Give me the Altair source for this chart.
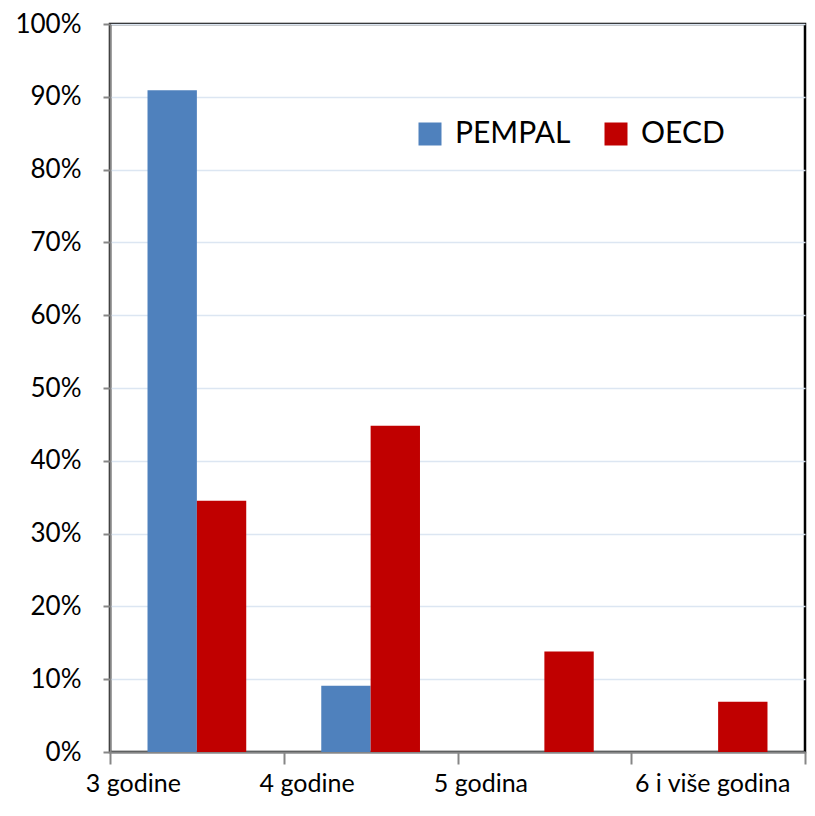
import altair as alt
import pandas as pd

categories = ["3 godine", "4 godine", "5 godina", "6 i više godina"]
series = ["PEMPAL", "OECD"]
pempal = [0.909, 0.091, 0.0, 0.0]
oecd = [0.345, 0.448, 0.138, 0.069]

rows = []
for c, p, o in zip(categories, pempal, oecd):
    rows.append({"cat": c, "series": "PEMPAL", "value": p})
    rows.append({"cat": c, "series": "OECD", "value": o})
df = pd.DataFrame(rows)

FONT = "Lato"

chart = alt.Chart(df).mark_bar(strokeWidth=0).encode(
    x=alt.X("cat:N", sort=categories, title=None,
            scale=alt.Scale(paddingInner=0, paddingOuter=0),
            axis=alt.Axis(labelAngle=0, tickBand="extent", domainColor="#868686",
                          domainWidth=2, tickColor="#868686", tickWidth=2, tickSize=12,
                          labelPadding=7, labelFontSize=25, labelFont=FONT,
                          labelColor="black", labelBound=False, labelOverlap=False,
                          labelOffset={"condition": {"test": "datum.value == '6 i više godina'", "value": -6},
                                       "value": -64},
                          grid=False)),
    xOffset=alt.XOffset("series:N", sort=series,
                        scale=alt.Scale(paddingOuter=0.76, paddingInner=0)),
    y=alt.Y("value:Q", title=None,
            scale=alt.Scale(domain=[0, 1], nice=False),
            axis=alt.Axis(format=".0%", values=[i / 10 for i in range(11)],
                          domainColor="#868686", domainWidth=2, tickColor="#868686",
                          tickWidth=2, tickSize=7, labelPadding=22, labelFontSize=26,
                          labelFont=FONT, labelColor="black",
                          gridColor="#dce6f2", gridWidth=1.5)),
    color=alt.Color("series:N", sort=series,
                    scale=alt.Scale(domain=series, range=["#4F81BD", "#C00000"]),
                    legend=alt.Legend(title=None, orient="none", legendX=305, legendY=95,
                                      direction="horizontal", symbolType="square",
                                      symbolSize=529, symbolStrokeWidth=0,
                                      labelFontSize=30, labelFont=FONT, labelColor="black",
                                      columnPadding=30, labelOffset=10)),
).properties(
    width=695, height=728,
    autosize=alt.AutoSizeParams(type="none"),
    padding={"left": 102, "top": 16, "right": 2, "bottom": 48},
).configure_view(stroke="black", strokeWidth=2.5)

chart.save("out.html", embed_options={"renderer": "svg", "actions": False})
